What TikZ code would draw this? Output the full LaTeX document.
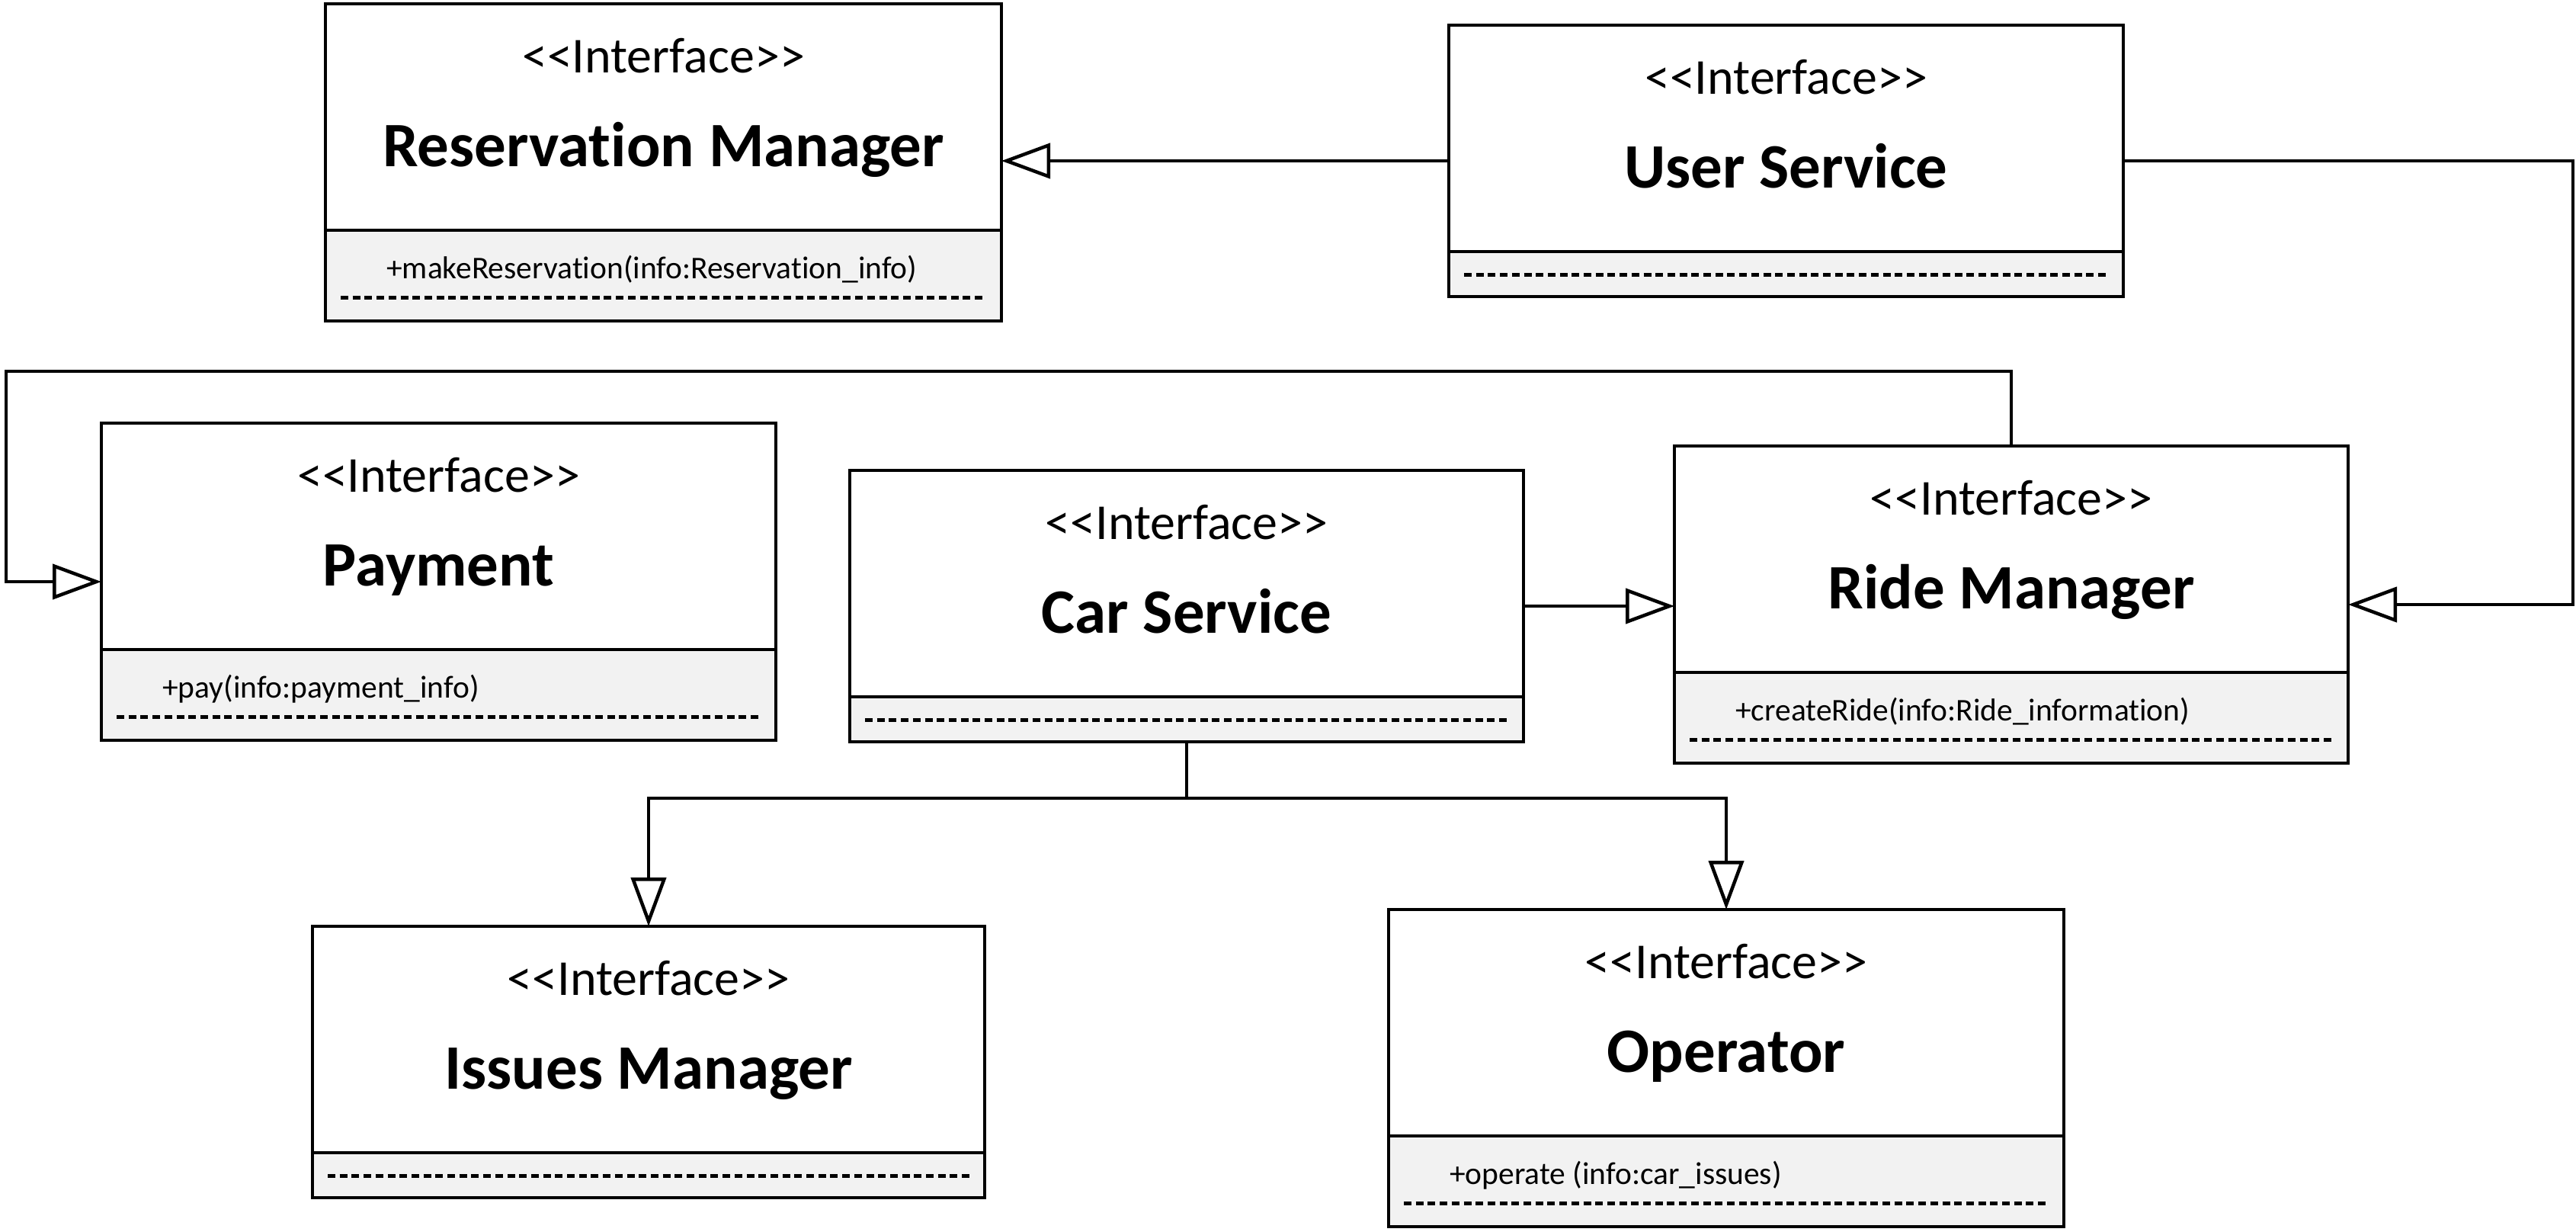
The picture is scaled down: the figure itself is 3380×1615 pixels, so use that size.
\documentclass[tikz,border=0pt]{standalone}
\usepackage{fontspec}
\newfontfamily\calfont{Carlito}[Ligatures={NoCommon}]
\usetikzlibrary{arrows.meta,calc}
\tikzset{
 boxline/.style={line width=4.5pt},
 compfill/.style={fill=black!5},
 stereo/.style={font=\calfont\fontsize{66}{70}\selectfont, inner sep=0pt, anchor=base},
 titletext/.style={font=\calfont\bfseries\fontsize{83}{90}\selectfont, inner sep=0pt, anchor=base},
 methodtext/.style={font=\calfont\fontsize{41.5}{45}\selectfont, inner sep=0pt, anchor=base west},
 dashline/.style={line width=5pt, dash pattern=on 10pt off 5.7pt},
 conn/.style={line width=4.5pt},
 gen/.style={line width=4.5pt, -{Triangle[fill=white,length=64pt,width=46pt]}},
 frame/.style={inner sep=0pt, outer sep=0pt, anchor=north west}
}
% class with a method compartment: name, x, top y, width, title, method
\newcommand{\umlM}[6]{%
 \node[frame, minimum width=#4pt, minimum height=416pt] (#1) at (#2,-#3) {};
 \fill[compfill] ($(#1.north west)+(0,-297)$) rectangle (#1.south east);
 \draw[boxline] (#1.north west) rectangle (#1.south east);
 \draw[boxline] ($(#1.north west)+(0,-297)$) -- ($(#1.north east)+(0,-297)$);
 \node[stereo] (#1-st) at ($(#1.north)+(0,-90)$) {<<Interface>>};
 \node[titletext] (#1-ti) at ($(#1.north)+(0,-213)$) {#5};
 \node[methodtext] (#1-me) at ($(#1.north west)+(80,-360)$) {#6};
 \draw[dashline] ($(#1.north west)+(20,-385)$) -- ($(#1.north east)+(-20,-385)$);
}
% class with an empty compartment: name, x, top y, width, title
\newcommand{\umlE}[5]{%
 \node[frame, minimum width=#4pt, minimum height=356pt] (#1) at (#2,-#3) {};
 \fill[compfill] ($(#1.north west)+(0,-297)$) rectangle (#1.south east);
 \draw[boxline] (#1.north west) rectangle (#1.south east);
 \draw[boxline] ($(#1.north west)+(0,-297)$) -- ($(#1.north east)+(0,-297)$);
 \node[stereo] (#1-st) at ($(#1.north)+(0,-90)$) {<<Interface>>};
 \node[titletext] (#1-ti) at ($(#1.north)+(0,-213)$) {#5};
 \draw[dashline] ($(#1.north west)+(20,-327)$) -- ($(#1.north east)+(-20,-327)$);
}
\begin{document}
\begin{tikzpicture}[x=1pt,y=1pt]
\useasboundingbox[fill=white] (0,0) rectangle (3380,-1615);

\umlM{rm}{427}{5}{887}{Reservation Manager}{+makeReservation(info:Reservation\_info)}
\umlE{us}{1901}{33}{885}{User Service}
\umlM{pay}{133}{555}{885}{Payment}{+pay(info:payment\_info)}
\umlE{cs}{1115}{617}{884}{Car Service}
\umlM{rim}{2197}{585}{884}{Ride Manager}{+createRide(info:Ride\_information)}
\umlE{im}{410}{1215}{882}{Issues Manager}
\umlM{op}{1822}{1193}{886}{Operator}{+operate (info:car\_issues)}

\coordinate (rx) at (3376,-212);
\coordinate (lx) at (8,-487);

\draw[gen] (us.west) -- (us.west -| rm.east);
\draw[gen] (us.east) -- (us.east -| rx) |- (rim.east);
\draw[gen] (rim.north) |- (lx) |- (pay.west);
\draw[gen] (cs.east) -- (cs.east -| rim.west);
\draw[conn] (cs.south) -- ++(0,-74) coordinate (jn);
\draw[gen] (jn) -| (im.north);
\draw[gen] (jn) -| (op.north);
\end{tikzpicture}
\end{document}
